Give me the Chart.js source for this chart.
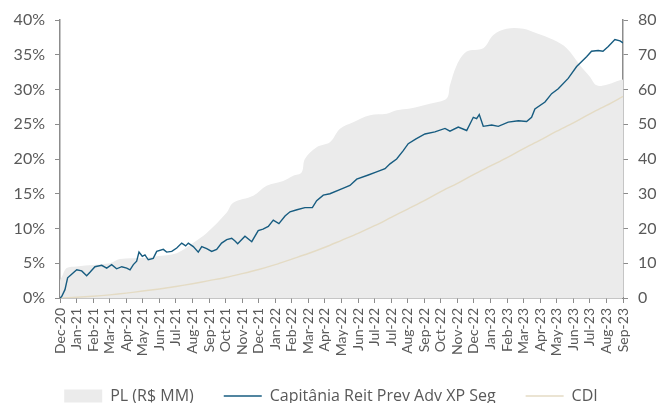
<!DOCTYPE html>
<html>
<head>
<meta charset="utf-8">
<script src="https://cdn.jsdelivr.net/npm/chart.js@4.4.1/dist/chart.umd.min.js"></script>
<style>
html,body{margin:0;padding:0;background:#fff;}
#wrap{width:662px;height:403px;position:relative;}
</style>
</head>
<body>
<div id="wrap"><canvas id="c"></canvas></div>
<script>
// Tick labels (one per ~monthly tick, as in the original date axis)
const tickLabels = ["Dec-20","Jan-21","Feb-21","Mar-21","Apr-21","May-21","Jun-21","Jul-21","Aug-21","Sep-21","Oct-21","Nov-21","Dec-21","Jan-22","Feb-22","Mar-22","Apr-22","May-22","Jun-22","Jul-22","Jul-22","Aug-22","Sep-22","Oct-22","Nov-22","Dec-22","Jan-23","Feb-23","Mar-23","Apr-23","May-23","Jun-23","Jul-23","Aug-23","Sep-23"];

// Fund (Capitânia Reit Prev Adv XP Seg), cumulative return in % — position in tick units
const fundX = [0,0.10,0.30,0.46,0.60,1.01,1.31,1.61,1.81,2.11,2.52,2.82,3.12,3.42,3.73,4.03,4.23,4.43,4.63,4.77,4.97,5.13,5.33,5.63,5.84,6.24,6.44,6.75,7.05,7.35,7.59,7.75,8.05,8.35,8.56,8.86,9.16,9.46,9.76,10.07,10.37,10.57,10.73,11.17,11.58,11.97,12.26,12.58,12.88,13.22,13.59,13.89,14.31,14.79,15.24,15.50,15.90,16.30,17.01,17.51,17.92,18.62,19.08,19.63,19.93,20.33,20.73,21.03,21.50,22.04,22.64,23.25,23.55,24.05,24.56,24.96,25.16,25.32,25.56,26.07,26.47,27.07,27.68,28.18,28.48,28.68,29.29,29.69,30.09,30.69,31.20,31.80,32.10,32.50,32.79,33.11,33.51,33.82,34.00];
const fundY = [0,0.2,1.2,2.9,3.2,4.06,3.9,3.2,3.7,4.5,4.7,4.3,4.8,4.2,4.5,4.3,4.06,4.8,5.3,6.6,6.0,6.2,5.5,5.7,6.7,7.0,6.6,6.7,7.2,7.9,7.5,7.9,7.4,6.6,7.4,7.1,6.7,7.0,7.9,8.4,8.6,8.2,7.8,8.9,8.1,9.7,9.9,10.3,11.2,10.7,11.8,12.4,12.7,13.0,13.0,14.0,14.8,15.0,15.7,16.2,17.1,17.7,18.1,18.6,19.3,20.0,21.2,22.2,22.9,23.6,23.9,24.4,24.0,24.6,24.1,26.0,25.8,26.4,24.7,24.9,24.7,25.3,25.5,25.4,26.0,27.2,28.2,29.4,30.1,31.6,33.3,34.7,35.5,35.6,35.5,36.2,37.2,37.0,36.7];

// CDI cumulative in %
const cdiX = [0,1,2,3,4,5,6,7,8,9,10,11,12,13,14,15,16,17,18,19,20,21,22,23,24,25,26,27,28,29,30,31,32,33,34];
const cdiY = [0,0.1,0.25,0.45,0.7,1.0,1.3,1.65,2.05,2.5,2.95,3.5,4.1,4.8,5.6,6.4,7.3,8.3,9.3,10.4,11.6,12.8,14.0,15.3,16.5,17.8,19.0,20.2,21.5,22.7,24.0,25.2,26.5,27.7,29.0];

// PL (R$ MM), right axis
const plX = [0,0.15,0.40,1.01,3.02,3.62,5.03,5.84,7.05,8.05,8.86,10.06,10.46,11.67,12.48,13.48,14.09,14.59,14.79,15.50,16.30,16.91,17.71,18.72,19.73,20.33,21.14,22.34,23.35,23.55,23.96,24.56,25.56,26.17,26.97,27.98,28.78,29.79,30.60,31.40,32.00,32.41,33.01,33.62,34.00];
const plY = [5.0,6.5,8.6,9.1,10.0,11.2,11.5,12.0,12.9,15.9,18.7,24.5,27.4,29.4,32.3,33.7,35.2,36.1,40.0,43.4,44.8,48.7,50.6,52.6,53.0,54.0,54.5,55.9,57.4,61.2,67.0,70.9,71.9,75.7,77.5,77.5,76.2,74.3,71.9,67.0,63.7,61.2,61.4,62.4,62.9];

const toPts = (xs, ys) => xs.map((x, i) => ({x: x, y: ys[i]}));

const txt = '#595959';
const axisCol = '#8c8c8c';
const FONT = 'Lato';

new Chart(document.getElementById('c'), {
  type: 'line',
  data: {
    datasets: [
      {
        label: 'PL (R$ MM)',
        data: toPts(plX, plY),
        yAxisID: 'y1',
        fill: 'origin',
        backgroundColor: '#ebebeb',
        borderColor: '#ebebeb',
        borderWidth: 0,
        pointRadius: 0,
        tension: 0.35,
        pointStyle: 'rect',
        order: 3
      },
      {
        label: 'Capitânia Reit Prev Adv XP Seg',
        data: toPts(fundX, fundY),
        yAxisID: 'y',
        borderColor: '#175c80',
        backgroundColor: '#175c80',
        borderWidth: 1.4,
        pointRadius: 0,
        tension: 0,
        fill: false,
        pointStyle: 'line',
        order: 1
      },
      {
        label: 'CDI',
        data: toPts(cdiX, cdiY),
        yAxisID: 'y',
        borderColor: '#e4dbc4',
        backgroundColor: '#e4dbc4',
        borderWidth: 1.4,
        pointRadius: 0,
        tension: 0.3,
        fill: false,
        pointStyle: 'line',
        order: 2
      }
    ]
  },
  options: {
    responsive: true,
    maintainAspectRatio: false,
    animation: false,
    layout: {padding: {top: 20, right: 0, left: 0, bottom: -11}},
    plugins: {
      tooltip: {enabled: false},
      legend: {
        position: 'bottom',
        labels: {
          usePointStyle: true,
          pointStyleWidth: 38,
          boxHeight: 13,
          padding: 30,
          color: txt,
          font: {family: 'Open Sans', size: 16},
          sort: (a, b) => a.datasetIndex - b.datasetIndex
        }
      }
    },
    scales: {
      x: {
        type: 'linear',
        min: 0,
        max: 34,
        afterFit: s => { s.height = 116 - (s.chart.legend ? s.chart.legend.height : 34); },
        afterBuildTicks: s => { s.ticks = tickLabels.map((_, i) => ({value: i})); },
        ticks: {
          autoSkip: false,
          minRotation: 90,
          maxRotation: 90,
          padding: 5,
          color: txt,
          font: {family: FONT, size: 14},
          callback: v => tickLabels[v]
        },
        grid: {drawOnChartArea: false, drawTicks: true, tickLength: 5, color: axisCol, lineWidth: 1},
        border: {display: true, color: axisCol, width: 1.5}
      },
      y: {
        position: 'left',
        min: 0,
        max: 40,
        afterFit: s => { s.width = 60; },
        ticks: {
          stepSize: 5,
          padding: 10,
          color: txt,
          font: {family: FONT, size: 16},
          callback: v => v + '%'
        },
        grid: {drawOnChartArea: false, drawTicks: true, tickLength: 5, color: axisCol, lineWidth: 1},
        border: {display: true, color: axisCol, width: 1.5}
      },
      y1: {
        position: 'right',
        min: 0,
        max: 80,
        afterFit: s => { s.width = 39; },
        ticks: {
          stepSize: 10,
          padding: 10,
          color: txt,
          font: {family: FONT, size: 16}
        },
        grid: {drawOnChartArea: false, drawTicks: true, tickLength: 5, color: axisCol, lineWidth: 1},
        border: {display: true, color: axisCol, width: 1.5}
      }
    }
  }
});
</script>
</body>
</html>
